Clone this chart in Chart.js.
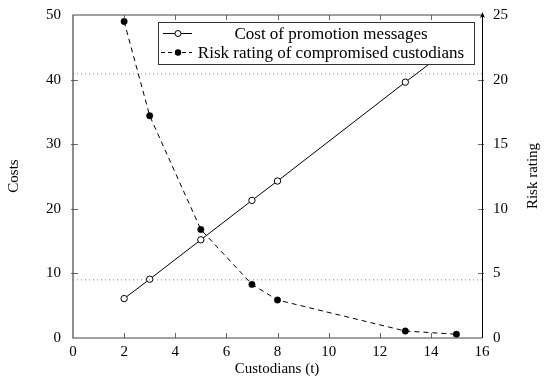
<!DOCTYPE html>
<html>
<head>
<meta charset="utf-8">
<script src="https://cdn.jsdelivr.net/npm/chart.js@4.4.1/dist/chart.umd.min.js"></script>
<style>
  html, body { margin: 0; padding: 0; background: #fff; }
  #wrap { width: 544px; height: 382px; }
</style>
</head>
<body>
<div id="wrap"><canvas id="chart"></canvas></div>
<script>
// data
const custodians = [2, 3, 5, 7, 8, 13, 15];
const costValues = [6.1, 9.1, 15.2, 21.3, 24.3, 39.6, 45.6];
const riskValues = [24.5, 17.2, 8.4, 4.15, 2.94, 0.54, 0.29];
const thresholdLevels = [40.9, 9.0]; // dotted guide lines, on the cost axis
const xTicks = [0, 2, 4, 6, 8, 10, 12, 14, 16];
const costTicks = [0, 10, 20, 30, 40, 50];
const riskTicks = [0, 5, 10, 15, 20, 25];
const labels = ['Cost of promotion messages', 'Risk rating of compromised custodians'];

const FONT = '"Liberation Serif", "DejaVu Serif", serif';

const toPoints = (xs, ys) => xs.map((x, i) => ({ x: x, y: ys[i] }));

const guideSets = thresholdLevels.map(v => ({
    data: [{ x: 0, y: v }, { x: 16, y: v }],
    yAxisID: 'y',
    borderColor: '#8a8a8a',
    borderWidth: 1,
    borderDash: [1, 3],
    pointRadius: 0,
    fill: false
}));

// frame, inside ticks, axis titles and a legend that covers the lines
const decor = {
    id: 'decor',
    afterDatasetsDraw(chart) {
        const ctx = chart.ctx;
        const a = chart.chartArea;
        const sx = chart.scales.x, sy = chart.scales.y, sr = chart.scales.y1;
        ctx.save();

        // frame
        ctx.strokeStyle = '#444';
        ctx.lineWidth = 1.2;
        ctx.beginPath();
        ctx.moveTo(a.right, a.top);
        ctx.lineTo(a.left, a.top);
        ctx.lineTo(a.left, a.bottom);
        ctx.lineTo(a.right, a.bottom);
        ctx.stroke();

        // ticks
        ctx.lineWidth = 0.8;
        xTicks.slice(1, -1).forEach(v => {
            const px = Math.round(sx.getPixelForValue(v)) + 0.5;
            ctx.beginPath();
            ctx.moveTo(px, a.bottom); ctx.lineTo(px, a.bottom - 5);
            ctx.moveTo(px, a.top); ctx.lineTo(px, a.top + 5);
            ctx.stroke();
        });
        costTicks.slice(1, -1).forEach(v => {
            const py = Math.round(sy.getPixelForValue(v)) + 0.5;
            ctx.beginPath();
            ctx.moveTo(a.left - 2, py); ctx.lineTo(a.left + 5, py);
            ctx.stroke();
        });
        riskTicks.slice(1, -1).forEach(v => {
            const py = Math.round(sr.getPixelForValue(v)) + 0.5;
            ctx.beginPath();
            ctx.moveTo(a.right - 4, py); ctx.lineTo(a.right + 2, py);
            ctx.stroke();
        });

        // right axis with arrow
        ctx.strokeStyle = '#000';
        ctx.fillStyle = '#000';
        ctx.lineWidth = 1;
        ctx.beginPath();
        ctx.moveTo(a.right + 0.5, a.bottom);
        ctx.lineTo(a.right + 0.5, a.top - 1);
        ctx.stroke();
        ctx.beginPath();
        ctx.moveTo(a.right + 0.5, a.top - 3);
        ctx.lineTo(a.right - 2, a.top + 3);
        ctx.lineTo(a.right + 0.5, a.top + 1.5);
        ctx.lineTo(a.right + 3, a.top + 3);
        ctx.closePath();
        ctx.fill();

        // legend
        const bx = 158, by = 22, bw = 316, bh = 42;
        ctx.fillStyle = '#fff';
        ctx.fillRect(bx, by, bw, bh);
        ctx.strokeStyle = '#333';
        ctx.lineWidth = 1;
        ctx.strokeRect(bx + 0.5, by + 0.5, bw, bh);

        const rows = [by + 11.5, by + 30.5];
        ctx.strokeStyle = '#000';
        ctx.lineWidth = 1;
        // sample 1: solid with open circle
        ctx.setLineDash([]);
        ctx.beginPath();
        ctx.moveTo(bx + 5, rows[0]); ctx.lineTo(bx + 34, rows[0]);
        ctx.stroke();
        ctx.beginPath();
        ctx.arc(bx + 20, rows[0], 3, 0, Math.PI * 2);
        ctx.fillStyle = '#fff';
        ctx.fill();
        ctx.stroke();
        // sample 2: dashed with filled circle
        ctx.setLineDash([4, 3]);
        ctx.beginPath();
        ctx.moveTo(bx + 3, rows[1]); ctx.lineTo(bx + 34, rows[1]);
        ctx.stroke();
        ctx.setLineDash([]);
        ctx.beginPath();
        ctx.arc(bx + 20, rows[1], 3.2, 0, Math.PI * 2);
        ctx.fillStyle = '#000';
        ctx.fill();

        ctx.fillStyle = '#000';
        ctx.font = '17px ' + FONT;
        ctx.textAlign = 'center';
        ctx.textBaseline = 'middle';
        ctx.fillText(labels[0], 331, rows[0] + 1);
        ctx.fillText(labels[1], 331, rows[1] + 1);

        // axis titles
        ctx.font = '15px ' + FONT;
        ctx.fillText('Custodians (t)', 277, 369);
        ctx.save();
        ctx.translate(14, 176);
        ctx.rotate(-Math.PI / 2);
        ctx.fillText('Costs', 0, 0);
        ctx.restore();
        ctx.save();
        ctx.translate(533, 176);
        ctx.rotate(-Math.PI / 2);
        ctx.fillText('Risk rating', 0, 0);
        ctx.restore();

        ctx.restore();
    }
};

const tickFont = { family: FONT, size: 15 };

new Chart(document.getElementById('chart'), {
    type: 'line',
    data: {
        datasets: [
            ...guideSets,
            {
                label: labels[0],
                data: toPoints(custodians, costValues),
                yAxisID: 'y',
                borderColor: '#000',
                borderWidth: 1,
                pointRadius: 3.2,
                pointBackgroundColor: '#fff',
                pointBorderColor: '#000',
                pointBorderWidth: 1,
                tension: 0
            },
            {
                label: labels[1],
                data: toPoints(custodians, riskValues),
                yAxisID: 'y1',
                borderColor: '#000',
                borderWidth: 1,
                borderDash: [5, 4],
                pointRadius: 3.2,
                pointBackgroundColor: '#000',
                pointBorderColor: '#000',
                pointBorderWidth: 0.5,
                tension: 0
            }
        ]
    },
    options: {
        responsive: true,
        maintainAspectRatio: false,
        animation: false,
        layout: { padding: { top: 15, left: 0, right: 0, bottom: 0 } },
        plugins: {
            legend: { display: false },
            tooltip: { enabled: false }
        },
        scales: {
            x: {
                type: 'linear',
                min: 0, max: 16,
                afterBuildTicks: s => { s.ticks = xTicks.map(v => ({ value: v })); },
                ticks: { font: tickFont, color: '#000', padding: -3, maxRotation: 0 },
                grid: { display: false },
                border: { display: false },
                afterFit: s => { s.height = 44; }
            },
            y: {
                position: 'left',
                min: 0, max: 50,
                afterBuildTicks: s => { s.ticks = costTicks.map(v => ({ value: v })); },
                ticks: { font: tickFont, color: '#000', padding: 4 },
                grid: { display: false },
                border: { display: false },
                afterFit: s => { s.width = 73; }
            },
            y1: {
                position: 'right',
                min: 0, max: 25,
                afterBuildTicks: s => { s.ticks = riskTicks.map(v => ({ value: v })); },
                ticks: { font: tickFont, color: '#000', padding: 3 },
                grid: { display: false },
                border: { display: false },
                afterFit: s => { s.width = 62; }
            }
        }
    },
    plugins: [decor]
});
</script>
</body>
</html>
